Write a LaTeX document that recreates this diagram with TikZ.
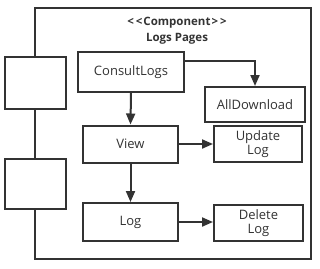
\documentclass[tikz,border=0pt]{standalone}
\usepackage{fontspec}
\setmainfont{Open Sans}
\usetikzlibrary{arrows.meta}
\definecolor{ink}{HTML}{333333}
\begin{document}
\begin{tikzpicture}[x=1pt,y=-1pt,
  box/.style={draw=ink,line width=2pt,fill=white,inner sep=0pt,font=\fontsize{13}{14.5}\selectfont,text=ink,align=center},
  flow/.style={draw=ink,line width=2pt,-{Triangle[length=11pt,width=9pt]}}]
\useasboundingbox (0,0) rectangle (320,268);
% component frame
\draw[ink,line width=2pt] (35,8) rectangle (311,259);
\node[font=\bfseries\fontsize{11.5}{16}\selectfont,text=ink,align=center] (title) at (177,30.5) {{<}\kern2pt{<}\kern1pt Component\kern1pt{>}\kern2pt{>}\\Logs Pages};
% ports on the left edge
\node[box,minimum width=61pt,minimum height=52pt] (p1) at (35.5,83) {};
\node[box,minimum width=61pt,minimum height=50pt] (p2) at (35.5,184) {};
% inner blocks
\node[box,minimum width=106pt,minimum height=40pt] (consult) at (131,72) {ConsultLogs};
\node[box,minimum width=100pt,minimum height=35pt] (alldl) at (255,104.5) {AllDownload};
\node[box,minimum width=95pt,minimum height=37pt] (view) at (130.5,144) {View};
\node[box,minimum width=88pt,minimum height=36pt] (update) at (258,144) {Update\\Log};
\node[box,minimum width=95pt,minimum height=38pt] (log) at (130.5,222) {Log};
\node[box,minimum width=89pt,minimum height=36pt] (delete) at (258.5,223) {Delete\\Log};
% connectors
\draw[flow] (consult.east |- 0,61) -| (alldl.north);
\draw[flow] (consult.south) -- (view.north);
\draw[flow] (view.east) -- (update.west |- view.east);
\draw[flow] (view.south) -- (log.north);
\draw[flow] (log.east) -- (delete.west |- log.east);
\end{tikzpicture}
\end{document}
